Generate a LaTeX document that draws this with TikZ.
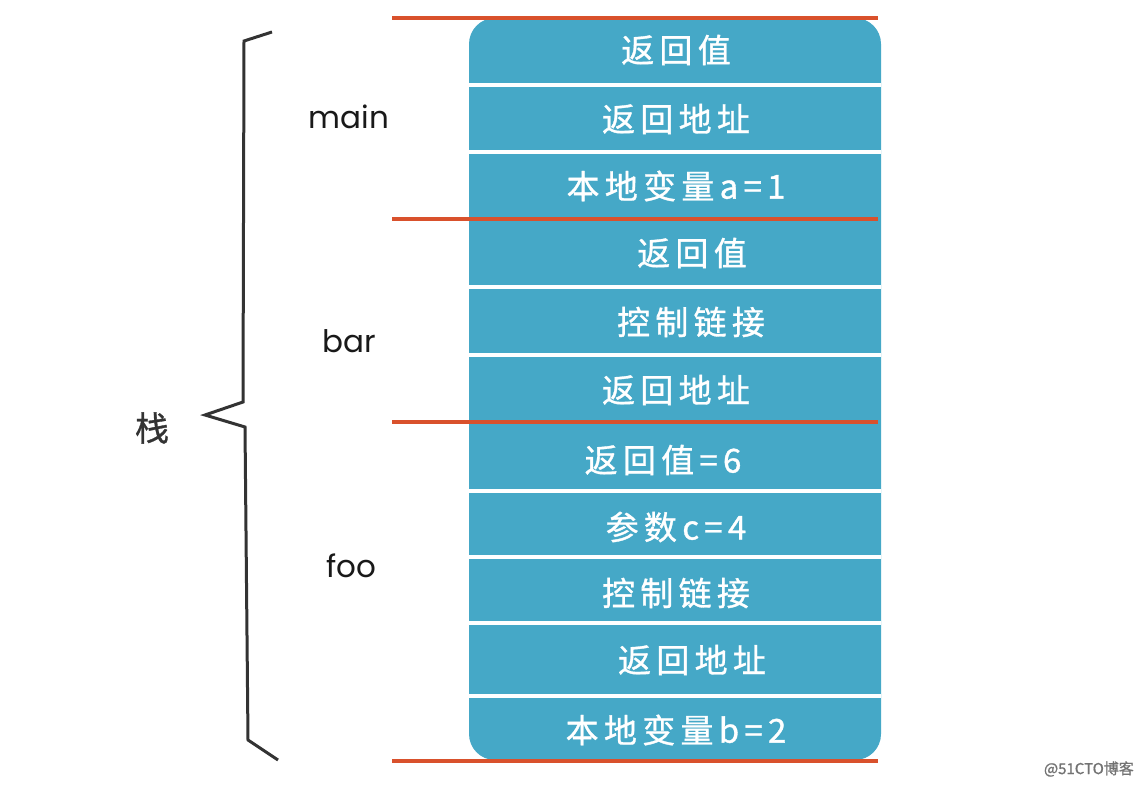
\documentclass[tikz,border=0pt]{standalone}
\usepackage{fontspec}
\setmainfont{Poppins}
\newfontfamily\cjk[FakeBold=1]{Noto Sans CJK SC}
\newfontfamily\cjkcell[LetterSpace=16,FakeBold=1]{Noto Sans CJK SC}
\definecolor{cellblue}{HTML}{45A8C7}
\definecolor{redline}{HTML}{D9512C}
\definecolor{bracegray}{HTML}{333333}
\begin{document}
\begin{tikzpicture}[x=1pt,y=-1pt,
  cell/.style={text=white,font=\cjkcell\fontsize{33}{36}\selectfont,inner sep=0pt,anchor=center},
  fname/.style={text=black!90,font=\fontsize{31}{36}\selectfont,inner sep=0pt,anchor=center},
  sep/.style={white,line width=3.5pt},
  divider/.style={redline,line width=3.5pt}]
\useasboundingbox[fill=white] (0,0) rectangle (1142,786);
% stack body
\fill[cellblue,rounded corners=26pt] (469,18) rectangle (881,760);
\foreach \y in {85,152,287,355,491,557,623,696}
  \draw[sep] (469,\y) -- (881,\y);
% red frame dividers
\draw[divider] (392,18) -- (878,18);
\draw[divider] (392,219) -- (878,219);
\draw[divider] (392,422) -- (878,422);
\draw[divider] (392,761) -- (878,761);
% cells
\node[cell] (c1) at (676,50) {返回值};
\node[cell] (c2) at (676,119) {返回地址};
\node[cell] (c3) at (676,186) {本地变量a=1};
\node[cell] (c4) at (692,253) {返回值};
\node[cell] (c5) at (691,322) {控制链接};
\node[cell] (c6) at (676,390) {返回地址};
\node[cell] (c7) at (663,460) {返回值=6};
\node[cell] (c8) at (676,527) {参数c=4};
\node[cell] (c9) at (676,593) {控制链接};
\node[cell] (c10) at (692,660) {返回地址};
\node[cell] (c11) at (676,730) {本地变量b=2};
% function labels
\node[fname] (main) at (349,117) {main};
\node[fname] (bar) at (349,341) {bar};
\node[fname] (foo) at (351,566) {foo};
% brace
\draw[bracegray,line width=3pt,line join=miter] (272,32) -- (244,41) -- (243,402) -- (205,415) -- (245,427) -- (248,740) -- (278,760);
\node[text=bracegray,font=\cjk\fontsize{34}{36}\selectfont,inner sep=0pt] (stack) at (152,428) {栈};
% watermark
\node[text=black!55,font=\cjk\fontsize{15}{18}\selectfont,inner sep=0pt,anchor=east] (wm) at (1134,769) {@51CTO博客};
\end{tikzpicture}
\end{document}
